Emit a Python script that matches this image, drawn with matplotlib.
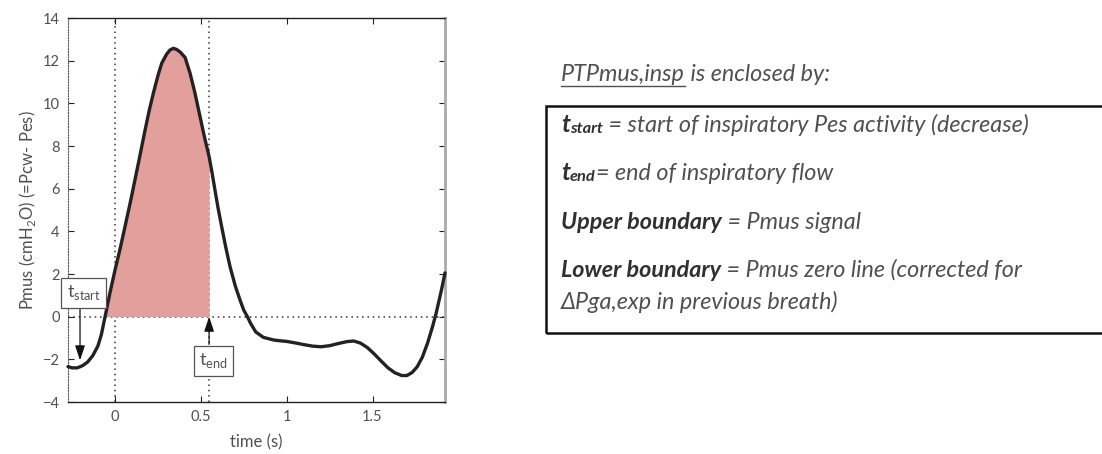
import numpy as np
import matplotlib
matplotlib.use("Agg")
import matplotlib.pyplot as plt
from matplotlib.patches import Rectangle
from matplotlib.lines import Line2D

plt.rcParams["font.family"] = ["Lato", "DejaVu Sans"]
plt.rcParams["mathtext.fontset"] = "custom"
plt.rcParams["mathtext.rm"] = "Lato"

# Pmus trace (cmH2O) over time (s)
t = [-0.274, -0.25, -0.22, -0.19, -0.16, -0.13, -0.10, -0.08, -0.058, -0.03,
     0.0, 0.03, 0.058, 0.09, 0.116, 0.145, 0.175, 0.20, 0.223, 0.25, 0.272,
     0.30, 0.32, 0.34, 0.36, 0.38, 0.408, 0.437, 0.465, 0.495, 0.52, 0.548,
     0.565, 0.582, 0.60, 0.621, 0.645, 0.67, 0.70, 0.728, 0.75, 0.771, 0.79,
     0.82, 0.864, 0.922, 0.96, 1.0, 1.05, 1.10, 1.15, 1.20, 1.25, 1.30, 1.35,
     1.39, 1.43, 1.47, 1.51, 1.55, 1.59, 1.63, 1.67, 1.70, 1.73, 1.76, 1.79,
     1.82, 1.85, 1.87, 1.90, 1.922]
pmus = [-2.34, -2.40, -2.40, -2.30, -2.13, -1.83, -1.38, -0.85, 0.0, 1.1,
        2.19, 3.2, 4.22, 5.4, 6.41, 7.55, 8.75, 9.7, 10.47, 11.3, 11.88,
        12.3, 12.5, 12.58, 12.52, 12.4, 12.15, 11.41, 10.5, 9.38, 8.45, 7.5,
        6.75, 5.94, 5.1, 4.22, 3.25, 2.34, 1.45, 0.78, 0.3, 0.0, -0.32,
        -0.72, -0.97, -1.09, -1.13, -1.16, -1.23, -1.31, -1.38, -1.41, -1.36, -1.26, -1.17,
        -1.14, -1.24, -1.45, -1.75, -2.08, -2.40, -2.63, -2.76, -2.76, -2.62, -2.35, -1.9,
        -1.25, -0.45, 0.15, 1.2, 2.05]

t_start = -0.058   # zero crossing, start of inspiratory effort
t_end = 0.548      # end of inspiratory flow
t_zero = 0.0

xticks = [0, 0.5, 1, 1.5]
xticklabels = ["0", "0.5", "1", "1.5"]
yticks = [-4, -2, 0, 2, 4, 6, 8, 10, 12, 14]

ink = "#505050"
dark = "#303030"
fig = plt.figure(figsize=(11.02, 4.54), dpi=100)
ax = fig.add_axes([68 / 1102, 1 - 402 / 454, 377 / 1102, 384 / 454])
ax.set_xlim(-0.274, 1.922)
ax.set_ylim(-4, 14)

ta = np.array(t); pa = np.array(pmus)
mask = (ta >= t_start - 1e-9) & (ta <= t_end + 1e-9)
ax.fill_between(ta[mask], 0, pa[mask], color="#e39f9c", lw=0, zorder=2)

ax.axhline(0, color="#333333", ls=(0, (1, 2.5)), lw=1.1, zorder=1)
for xv in (t_zero, t_end):
    ax.axvline(xv, color="#333333", ls=(0, (1, 2.5)), lw=1.1, zorder=1)

ax.plot(t, pmus, color="#222222", lw=2.4, solid_joinstyle="round",
        solid_capstyle="round", zorder=4, clip_on=False)

ax.set_xticks(xticks)
ax.set_xticklabels(xticklabels)
ax.set_yticks(yticks)
ax.tick_params(direction="in", length=4, width=0.8, top=True, right=True,
               labelsize=10.5, labelcolor=ink, color="#222222", pad=6)
for s in ("top", "bottom"):
    ax.spines[s].set_color("#222222"); ax.spines[s].set_linewidth(1.0)
ax.spines["left"].set_linestyle((0, (1, 1.5)))
ax.spines["left"].set_color("#555555")
ax.spines["right"].set_color("#aaaaaa")
ax.spines["right"].set_linewidth(2.0)

ax.set_xlabel("time (s)", color=ink, fontsize=12, labelpad=7)
ax.set_ylabel("Pmus (cmH$_2$O) (=Pcw- Pes)", color=ink, fontsize=12, labelpad=3)

box = dict(boxstyle="square,pad=0.3", fc="white", ec="#555555", lw=0.9)
arrow = dict(arrowstyle="-|>,head_length=0.9,head_width=0.3", color="#111111",
             lw=0.9, shrinkA=0, shrinkB=0)
ax.annotate("", xy=(-0.204, -2.05), xytext=(-0.204, 0.4), arrowprops=arrow, zorder=5)
ax.annotate("", xy=(t_end, 0.0), xytext=(t_end, -1.3), arrowprops=arrow, zorder=5)
ax.text(-0.183, 1.12, "t$_{\\mathrm{start}}$", ha="center", va="center", fontsize=13,
        color=ink, bbox=box, zorder=6, clip_on=False)
ax.text(0.572, -2.07, "t$_{\\mathrm{end}}$", ha="center", va="center", fontsize=13,
        color=ink, bbox=box, zorder=6)

# text panel on the right
rend = fig.canvas.get_renderer()
fs = 16.8
x0 = 561 / 1102


def runs(y_px, parts):
    x = x0
    for txt, weight, size, dy in parts:
        tt = fig.text(x, 1 - (y_px + dy) / 454, txt, fontsize=size, style="italic",
                      weight=weight, color=dark if weight == "bold" else ink,
                      va="baseline", ha="left")
        bb = tt.get_window_extent(rend)
        x = bb.x1 / 1102
    return x


title = fig.text(x0, 1 - 81 / 454, "PTPmus,insp", fontsize=fs, style="italic",
                 color=ink, va="baseline")
bb = title.get_window_extent(rend)
fig.text(bb.x1 / 1102, 1 - 81 / 454, " is enclosed by:", fontsize=fs, style="italic",
         color=ink, va="baseline")
fig.add_artist(Line2D([bb.x0 / 1102, bb.x1 / 1102], [1 - 86 / 454] * 2, color=ink, lw=1.0))

runs(132, [("t", "bold", fs + 1, 0), ("start", "bold", fs - 5, 1),
           (" = start of inspiratory Pes activity (decrease)", "normal", fs, 0)])
runs(180, [("t", "bold", fs + 1, 0), ("end", "bold", fs - 5, 1),
           ("= end of inspiratory flow", "normal", fs, 0)])
runs(229, [("Upper boundary", "bold", fs, 0), (" = Pmus signal", "normal", fs, 0)])
runs(277, [("Lower boundary", "bold", fs, 0),
           (" = Pmus zero line (corrected for", "normal", fs, 0)])
runs(309, [("\u0394Pga,exp in previous breath)", "normal", fs, 0)])

fig.add_artist(Rectangle((546 / 1102, 1 - 333 / 454), 0.6, 227 / 454,
                         fill=False, ec="#111111", lw=1.8, clip_on=False))

fig.savefig("out.png", dpi=100)
